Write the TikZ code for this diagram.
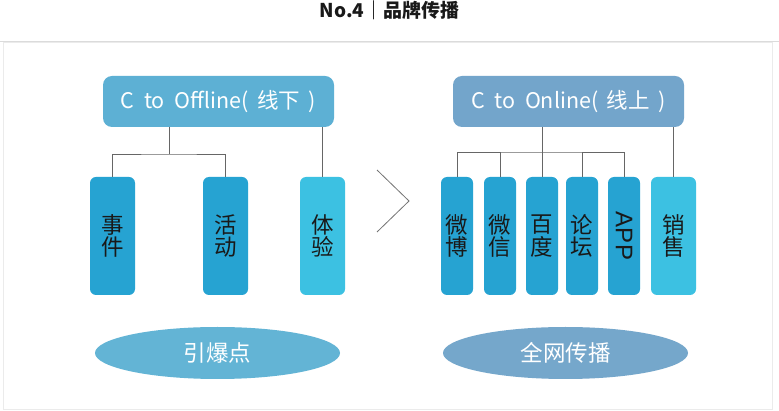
\documentclass[tikz,border=0pt]{standalone}
\usepackage{fontspec}
\usepackage{xcolor}
\usetikzlibrary{shapes.geometric}
\setmainfont{Noto Sans CJK SC}
\newfontfamily\arialfont{Liberation Sans}

\begin{document}
\begin{tikzpicture}[x=1pt,y=-1pt,
  headbox/.style={rounded corners=9pt,minimum width=231pt,minimum height=51pt,inner sep=0pt,text=white,font=\fontsize{21.5}{21.5}\selectfont},
  colbox/.style={rounded corners=6pt,minimum height=118pt,inner sep=0pt,align=center,text=black!90,font=\fontsize{22.5}{22.5}\selectfont},
  oval/.style={ellipse,minimum width=245pt,minimum height=52pt,inner sep=0pt,text=white,font=\fontsize{22.5}{22.5}\selectfont},
  link/.style={draw=black!60,line width=0.8pt}]
\definecolor{skyhead}{HTML}{5DB0D4}
\definecolor{steelhead}{HTML}{73A5CB}
\definecolor{deepcol}{HTML}{26A3D2}
\definecolor{lightcol}{HTML}{3CC1E2}
\definecolor{skyoval}{HTML}{63B4D5}
\definecolor{steeloval}{HTML}{75A7CB}
\useasboundingbox (0,0) rectangle (779,411);
% panel
\draw[draw=black!8,fill=white] (3,42) rectangle (772,409);
\draw[black!14,line width=1pt] (0,42) -- (779,42);
\node[font=\fontsize{19}{19}\selectfont\bfseries,text=black!90] (title) at (389.5,10) {No.4｜品牌传播};

% offline side
\node[headbox,fill=skyhead] (hoff) at (218.5,101.5) {C\hspace{0.45em}to\hspace{0.45em}Offline(\hspace{0.4em}线下\hspace{0.4em})};
\foreach \crlr/\colw/\pos/\txt [count=\i] in {deepcol/45/112.5/事\\件,deepcol/45/225.5/活\\动,lightcol/45/322.5/体\\验}
{  \node [colbox,fill=\crlr,minimum width=\colw pt] (e\i) at (\pos,236) {\txt};}
\coordinate (lsplit) at (169,154);
\draw[link] (lsplit |- hoff.south) -- (lsplit);
\draw[link] (e1.north) |- (lsplit) -| (e2.north);
\draw[link] (e3.north |- hoff.south) -- (e3.north);

% chevron
\draw[black!55,line width=0.8pt] (377,170) -- (409,201) -- (377,232);

% online side
\node[headbox,fill=steelhead] (hon) at (568.5,101.5) {C\hspace{0.45em}to\hspace{0.45em}Online(\hspace{0.4em}线上\hspace{0.4em})};
\foreach \crlr/\colw/\pos/\txt [count=\i] in {deepcol/32/457/微\\博,deepcol/32/500/微\\信,deepcol/32/542/百\\度,deepcol/32/582/论\\坛,deepcol/32/624/,lightcol/45/673.5/销\\售}
{  \node [colbox,fill=\crlr,minimum width=\colw pt] (c\i) at (\pos,236) {\txt};}
\node[rotate=-90,font=\arialfont\fontsize{24}{24}\selectfont,text=black!90] (app) at (c5.center) {APP};
\coordinate (rsplit) at (542,152);
\draw[link] (rsplit |- hon.south) -- (rsplit);
\draw[link] (c1.north) |- (rsplit) -| (c5.north);
\foreach \i in {2,3,4}
{  \draw[link] (c\i.north) -- (c\i.north |- rsplit);}
\draw[link] (c6.north |- hon.south) -- (c6.north);

% bottom ovals
\node[oval,fill=skyoval] (spark) at (217.5,353) {引爆点};
\node[oval,fill=steeloval] (spread) at (565.5,353) {全网传播};
\end{tikzpicture}
\end{document}
